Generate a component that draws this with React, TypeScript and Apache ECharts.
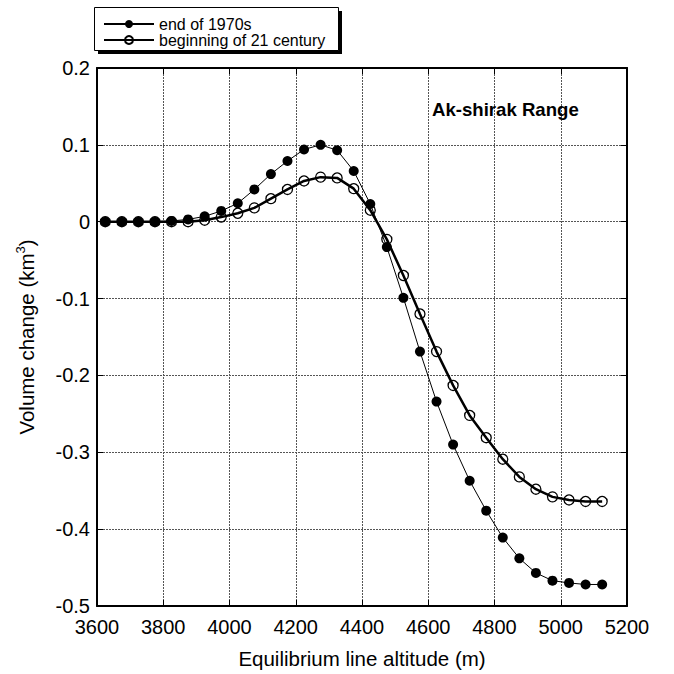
import React, { useEffect, useRef } from "react";
import * as echarts from "echarts";

const altitudes = [
  3625, 3675, 3725, 3775, 3825, 3875, 3925, 3975, 4025, 4075, 4125, 4175, 4225, 4275, 4325, 4375,
  4425, 4475, 4525, 4575, 4625, 4675, 4725, 4775, 4825, 4875, 4925, 4975, 5025, 5075, 5125,
];
const end1970s = [
  0, 0, 0, 0, 0.001, 0.003, 0.007, 0.014, 0.024, 0.042, 0.062, 0.079, 0.094, 0.1, 0.093, 0.066,
  0.023, -0.033, -0.099, -0.169, -0.234, -0.29, -0.337, -0.376, -0.411, -0.438, -0.457, -0.467,
  -0.47, -0.472, -0.472,
];
const begin21 = [
  0, 0, 0, 0, 0, 0, 0.002, 0.006, 0.011, 0.018, 0.03, 0.042, 0.053, 0.058, 0.057, 0.043, 0.015,
  -0.023, -0.07, -0.12, -0.169, -0.213, -0.252, -0.281, -0.309, -0.332, -0.348, -0.358, -0.362,
  -0.364, -0.364,
];
const seriesNames = ["end of 1970s", "beginning of 21 century"];
const xAxisTitle = "Equilibrium line altitude (m)";
const chartTitle = "Ak-shirak Range";

const FONT = "'Liberation Sans', Arial, Helvetica, sans-serif";

export default function App() {
  const ref = useRef<HTMLDivElement>(null);
  useEffect(() => {
    if (!ref.current) return;
    const chart = echarts.init(ref.current, null, { renderer: "svg" });
    const pairs = (ys: number[]) => altitudes.map((x, i) => [x, ys[i]]);
    const tickStyle = { show: true, inside: true, length: 6, lineStyle: { color: "#000", width: 1 } };
    const axisLine = { show: true, onZero: false, lineStyle: { color: "#000", width: 2 } };
    const splitLine = { show: true, lineStyle: { color: "#555", width: 1, type: [2, 1] } };
    chart.setOption({
      animation: false,
      backgroundColor: "#fff",
      textStyle: { fontFamily: FONT },
      grid: { left: 97, right: 47, top: 68, bottom: 64 },
      graphic: [
        { type: "rect", z: 0, shape: { x: 98, y: 11, width: 244, height: 43 }, style: { fill: "#000" } },
        { type: "rect", z: 1, shape: { x: 94.5, y: 7.5, width: 244, height: 43 }, style: { fill: "#fff", stroke: "#000", lineWidth: 1 } },
        {
          type: "text",
          z: 10,
          x: 432,
          y: 109,
          style: { text: chartTitle, font: `bold 18.6px ${FONT}`, fill: "#000", verticalAlign: "middle" },
        },
      ],
      legend: {
        z: 20,
        orient: "vertical",
        left: 103,
        top: 16,
        padding: 0,
        itemWidth: 50,
        itemHeight: 10,
        itemGap: 0,
        textStyle: { fontSize: 16, lineHeight: 15, color: "#000", fontFamily: FONT },
        data: seriesNames,
      },
      xAxis: [
        {
          type: "value",
          min: 3600,
          max: 5200,
          interval: 200,
          name: xAxisTitle,
          nameLocation: "middle",
          nameGap: 42,
          nameTextStyle: { fontSize: 20.5, color: "#000", fontFamily: FONT },
          axisLine,
          axisTick: tickStyle,
          axisLabel: { fontSize: 20, color: "#000", margin: 11, fontFamily: FONT, formatter: (v: number) => String(v) },
          splitLine,
        },
        {
          type: "value",
          position: "top",
          min: 3600,
          max: 5200,
          interval: 200,
          axisLine,
          axisTick: tickStyle,
          axisLabel: { show: false },
          splitLine: { show: false },
        },
      ],
      yAxis: [
        {
          type: "value",
          min: -0.5,
          max: 0.2,
          interval: 0.1,
          name: "Volume change (km{sup|3})",
          nameLocation: "middle",
          nameGap: 58,
          nameTextStyle: {
            fontSize: 20.5,
            color: "#000",
            fontFamily: FONT,
            rich: { sup: { fontSize: 13, verticalAlign: "top", padding: [0, 0, 12, 0], color: "#000", fontFamily: FONT } },
          },
          axisLine,
          axisTick: tickStyle,
          axisLabel: { fontSize: 20, color: "#000", margin: 7, fontFamily: FONT },
          splitLine,
        },
        {
          type: "value",
          position: "right",
          min: -0.5,
          max: 0.2,
          interval: 0.1,
          axisLine,
          axisTick: tickStyle,
          axisLabel: { show: false },
          splitLine: { show: false },
        },
      ],
      series: [
        {
          name: seriesNames[0],
          type: "line",
          data: pairs(end1970s),
          symbol: "circle",
          symbolSize: 10,
          lineStyle: { color: "#000", width: 1 },
          itemStyle: { color: "#000", borderColor: "#000", borderWidth: 0 },
          z: 3,
        },
        {
          name: seriesNames[1],
          type: "line",
          data: pairs(begin21),
          symbol: "circle",
          symbolSize: 10,
          showAllSymbol: true,
          lineStyle: { color: "#000", width: 2.5 },
          itemStyle: { color: "rgba(255,255,255,0)", borderColor: "#000", borderWidth: 1.3 },
          z: 4,
        },
      ],
    });
    return () => chart.dispose();
  }, []);
  return <div ref={ref} style={{ position: "fixed", left: 0, top: 0, width: 674, height: 674 }} />;
}
